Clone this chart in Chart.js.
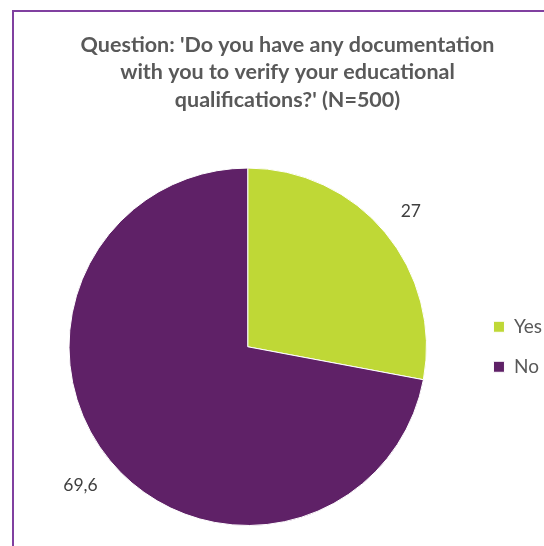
<!DOCTYPE html>
<html>
<head>
<meta charset="utf-8">
<script src="https://cdn.jsdelivr.net/npm/chart.js@4"></script>
<style>
  html, body { margin: 0; padding: 0; background: #fff; overflow: hidden; }
  #wrap { position: relative; width: 544px; height: 546px; overflow: hidden; }
  #frame { position: absolute; left: 12px; top: 10px; right: -10px; bottom: -10px;
           border-left: 2px solid #8040a0; border-top: 2px solid #8040a0; }
  #wrap canvas { position: absolute; left: 0; top: 0; }
</style>
</head>
<body>
<div id="wrap">
  <div id="frame"></div>
  <canvas id="chart1"></canvas>
</div>
<script>
const titleLines = [
  "Question: 'Do you have any documentation",
  'with you to verify your educational',
  "qualifications?' (N=500)",
];
const answers = ['Yes', 'No'];
const shares = [27, 69.6];
const sliceColors = ['#BFD836', '#5F2167'];

// labels outside each slice, decimal comma like the original
const outsideLabels = {
  id: 'outsideLabels',
  afterDatasetsDraw(chart) {
    const ctx = chart.ctx;
    const meta = chart.getDatasetMeta(0);
    ctx.save();
    ctx.font = '17.5px Lato';
    ctx.fillStyle = '#404040';
    ctx.textAlign = 'center';
    ctx.textBaseline = 'middle';
    meta.data.forEach((arc, i) => {
      const text = String(shares[i]).replace('.', ',');
      const mid = (arc.startAngle + arc.endAngle) / 2;
      const dx = Math.cos(mid), dy = Math.sin(mid);
      const halfW = ctx.measureText(text).width / 2;
      const dist = arc.outerRadius + 20 + halfW * Math.abs(dx) + 8.5 * Math.abs(dy);
      ctx.fillText(text, arc.x + dx * dist, arc.y + dy * dist);
    });
    ctx.restore();
  }
};

const chart1Context = document.getElementById('chart1').getContext('2d');
new Chart(chart1Context, {
  type: 'pie',
  data: {
    labels: answers,
    datasets: [{
      data: shares,
      backgroundColor: sliceColors,
      borderColor: '#ffffff',
      borderWidth: 1,
    }]
  },
  options: {
    responsive: true,
    maintainAspectRatio: false,
    animation: false,
    layout: {
      padding: { left: 23, right: -8, top: 0, bottom: 20 }
    },
    plugins: {
      title: {
        display: true,
        text: titleLines,
        color: '#595959',
        font: { family: 'Lato', size: 21.5, weight: 'bold', lineHeight: 1.28 },
        padding: { top: 31, bottom: 54 }
      },
      legend: {
        position: 'right',
        fullSize: false,
        labels: {
          boxWidth: 11,
          boxHeight: 11,
          padding: 21,
          color: '#595959',
          font: { family: 'Lato', size: 19 }
        }
      },
      tooltip: { enabled: false }
    }
  },
  plugins: [outsideLabels]
});
</script>
</body>
</html>
